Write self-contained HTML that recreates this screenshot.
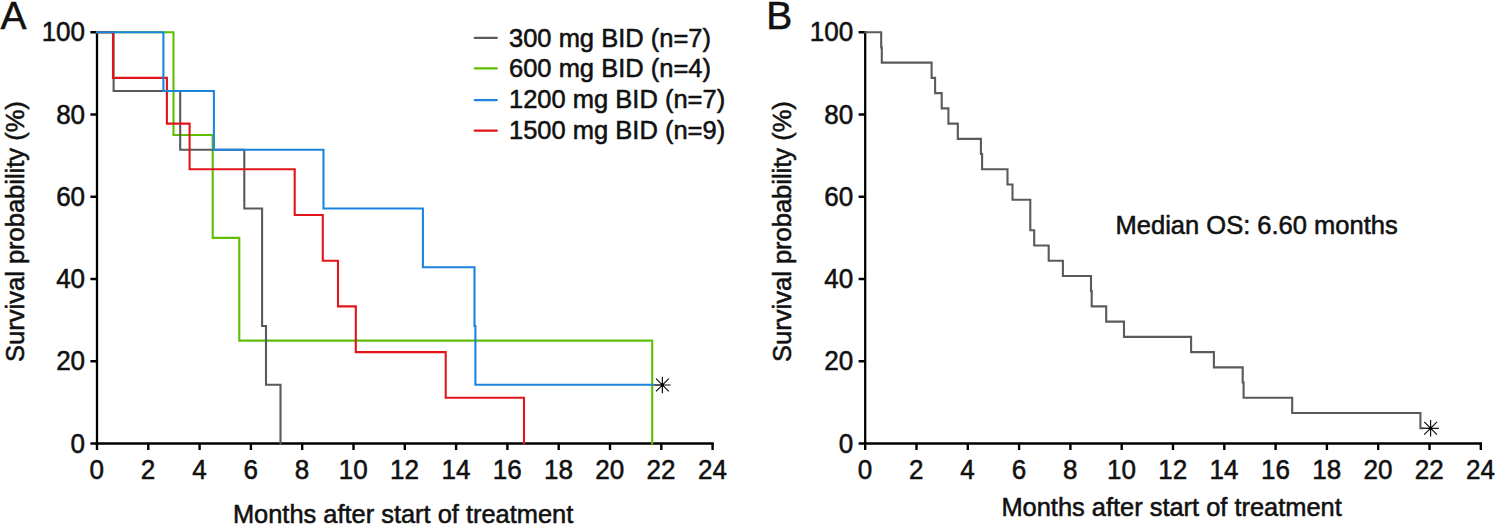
<!DOCTYPE html>
<html lang="en">
<head>
<meta charset="utf-8">
<title>Survival probability</title>
<style>
html,body{margin:0;padding:0;background:#fff;}
body{width:1495px;height:525px;overflow:hidden;}
svg{display:block;font-family:"Liberation Sans",Arial,Helvetica,sans-serif;}
text{fill:#111;stroke:#111;stroke-width:0.55px;stroke-linejoin:round;}
</style>
</head>
<body>
<svg width="1495" height="525" viewBox="0 0 1495 525">
<rect width="1495" height="525" fill="#fff"/>
<!-- Panel A -->
<text x="0.4" y="29" font-size="39">A</text>
<path d="M97 31 V443.5 H713.8" fill="none" stroke="#000" stroke-width="2.3" stroke-linejoin="miter"/>
<path d="M90.4 443.5 H97M90.4 361.24 H97M90.4 278.98 H97M90.4 196.72 H97M90.4 114.46 H97M90.4 32.2 H97M97 443.5 V450.1M148.3 443.5 V450.1M199.6 443.5 V450.1M250.9 443.5 V450.1M302.2 443.5 V450.1M353.5 443.5 V450.1M404.8 443.5 V450.1M456.1 443.5 V450.1M507.4 443.5 V450.1M558.7 443.5 V450.1M610 443.5 V450.1M661.3 443.5 V450.1M712.6 443.5 V450.1" fill="none" stroke="#000" stroke-width="2.4"/>
<g font-size="27" text-anchor="end">
<text x="85.1" y="452.7" textLength="14.49" lengthAdjust="spacingAndGlyphs">0</text>
<text x="85.1" y="370.44" textLength="28.97" lengthAdjust="spacingAndGlyphs">20</text>
<text x="85.1" y="288.18" textLength="28.97" lengthAdjust="spacingAndGlyphs">40</text>
<text x="85.1" y="205.92" textLength="28.97" lengthAdjust="spacingAndGlyphs">60</text>
<text x="85.1" y="123.66" textLength="28.97" lengthAdjust="spacingAndGlyphs">80</text>
<text x="85.1" y="41.4" textLength="43.46" lengthAdjust="spacingAndGlyphs">100</text>
</g>
<g font-size="27" text-anchor="middle">
<text x="96.8" y="479" textLength="14.49" lengthAdjust="spacingAndGlyphs">0</text>
<text x="148.1" y="479" textLength="14.49" lengthAdjust="spacingAndGlyphs">2</text>
<text x="199.4" y="479" textLength="14.49" lengthAdjust="spacingAndGlyphs">4</text>
<text x="250.7" y="479" textLength="14.49" lengthAdjust="spacingAndGlyphs">6</text>
<text x="302" y="479" textLength="14.49" lengthAdjust="spacingAndGlyphs">8</text>
<text x="353.3" y="479" textLength="28.97" lengthAdjust="spacingAndGlyphs">10</text>
<text x="404.6" y="479" textLength="28.97" lengthAdjust="spacingAndGlyphs">12</text>
<text x="455.9" y="479" textLength="28.97" lengthAdjust="spacingAndGlyphs">14</text>
<text x="507.2" y="479" textLength="28.97" lengthAdjust="spacingAndGlyphs">16</text>
<text x="558.5" y="479" textLength="28.97" lengthAdjust="spacingAndGlyphs">18</text>
<text x="609.8" y="479" textLength="28.97" lengthAdjust="spacingAndGlyphs">20</text>
<text x="661.1" y="479" textLength="28.97" lengthAdjust="spacingAndGlyphs">22</text>
<text x="712.4" y="479" textLength="28.97" lengthAdjust="spacingAndGlyphs">24</text>
</g>
<path d="M97 32.2 H173.5 V135.02 H212.7 V237.85 H239.3 V340.67 H652.2 V443.5" fill="none" stroke="#5fbe00" stroke-width="2.1" stroke-linejoin="miter" stroke-linecap="square"/>
<path d="M97 32.2 H113.6 V90.96 H180.2 V149.71 H244.3 V208.47 H262.1 V325.99 H266 V384.74 H280.5 V443.5" fill="none" stroke="#5a5a5a" stroke-width="2.1" stroke-linejoin="miter" stroke-linecap="square"/>
<path d="M97 32.2 H113 V77.9 H166.9 V123.6 H189.6 V169.3 H294.7 V215 H322.8 V260.7 H338 V306.4 H355.8 V352.1 H445.7 V397.8 H524 V443.5" fill="none" stroke="#e1141a" stroke-width="2.1" stroke-linejoin="miter" stroke-linecap="square"/>
<path d="M97 32.2 H163.4 V90.96 H213.9 V149.71 H323.5 V208.47 H422.9 V267.23 H474.5 V325.99 H475.4 V384.74 H653" fill="none" stroke="#1c84de" stroke-width="2.1" stroke-linejoin="miter" stroke-linecap="square"/>
<g stroke="#111" stroke-width="1.2" fill="none"><path d="M662.4 376.7 V393.3 M662.4 385 H670.7 M656 378.6 L668.8 391.4 M656 391.4 L668.8 378.6"/><path d="M654.1 385 H662.4" stroke="#0b1a2b" stroke-width="1.45"/><rect x="660.9" y="383.5" width="3" height="3" fill="#000" stroke="none"/></g>
<text transform="translate(24.0 361.9) rotate(-90)" font-size="25.5">Survival probability (%)</text>
<text x="232.9" y="523" font-size="25.5" textLength="340.4" lengthAdjust="spacingAndGlyphs">Months after start of treatment</text>
<path d="M474.7 37.8 H496.8" stroke="#5a5a5a" stroke-width="2.2" stroke-linecap="round" fill="none"/>
<text x="509" y="46.6" font-size="25.5">300 mg BID (n=7)</text>
<path d="M474.7 68.3 H496.8" stroke="#5fbe00" stroke-width="2.2" stroke-linecap="round" fill="none"/>
<text x="509" y="77.35" font-size="25.5">600 mg BID (n=4)</text>
<path d="M474.7 100.1 H496.8" stroke="#1c84de" stroke-width="2.2" stroke-linecap="round" fill="none"/>
<text x="509" y="108.1" font-size="25.5">1200 mg BID (n=7)</text>
<path d="M474.7 130.7 H496.8" stroke="#e1141a" stroke-width="2.2" stroke-linecap="round" fill="none"/>
<text x="509" y="138.85" font-size="25.5">1500 mg BID (n=9)</text>
<!-- Panel B -->
<text x="766.3" y="29" font-size="39">B</text>
<path d="M865.2 31 V443.5 H1482" fill="none" stroke="#000" stroke-width="2.3" stroke-linejoin="miter"/>
<path d="M858.6 443.5 H865.2M858.6 361.24 H865.2M858.6 278.98 H865.2M858.6 196.72 H865.2M858.6 114.46 H865.2M858.6 32.2 H865.2M865.2 443.5 V450.1M916.5 443.5 V450.1M967.8 443.5 V450.1M1019.1 443.5 V450.1M1070.4 443.5 V450.1M1121.7 443.5 V450.1M1173 443.5 V450.1M1224.3 443.5 V450.1M1275.6 443.5 V450.1M1326.9 443.5 V450.1M1378.2 443.5 V450.1M1429.5 443.5 V450.1M1480.8 443.5 V450.1" fill="none" stroke="#000" stroke-width="2.4"/>
<g font-size="27" text-anchor="end">
<text x="853.3" y="452.7" textLength="14.49" lengthAdjust="spacingAndGlyphs">0</text>
<text x="853.3" y="370.44" textLength="28.97" lengthAdjust="spacingAndGlyphs">20</text>
<text x="853.3" y="288.18" textLength="28.97" lengthAdjust="spacingAndGlyphs">40</text>
<text x="853.3" y="205.92" textLength="28.97" lengthAdjust="spacingAndGlyphs">60</text>
<text x="853.3" y="123.66" textLength="28.97" lengthAdjust="spacingAndGlyphs">80</text>
<text x="853.3" y="41.4" textLength="43.46" lengthAdjust="spacingAndGlyphs">100</text>
</g>
<g font-size="27" text-anchor="middle">
<text x="865" y="479" textLength="14.49" lengthAdjust="spacingAndGlyphs">0</text>
<text x="916.3" y="479" textLength="14.49" lengthAdjust="spacingAndGlyphs">2</text>
<text x="967.6" y="479" textLength="14.49" lengthAdjust="spacingAndGlyphs">4</text>
<text x="1018.9" y="479" textLength="14.49" lengthAdjust="spacingAndGlyphs">6</text>
<text x="1070.2" y="479" textLength="14.49" lengthAdjust="spacingAndGlyphs">8</text>
<text x="1121.5" y="479" textLength="28.97" lengthAdjust="spacingAndGlyphs">10</text>
<text x="1172.8" y="479" textLength="28.97" lengthAdjust="spacingAndGlyphs">12</text>
<text x="1224.1" y="479" textLength="28.97" lengthAdjust="spacingAndGlyphs">14</text>
<text x="1275.4" y="479" textLength="28.97" lengthAdjust="spacingAndGlyphs">16</text>
<text x="1326.7" y="479" textLength="28.97" lengthAdjust="spacingAndGlyphs">18</text>
<text x="1378" y="479" textLength="28.97" lengthAdjust="spacingAndGlyphs">20</text>
<text x="1429.3" y="479" textLength="28.97" lengthAdjust="spacingAndGlyphs">22</text>
<text x="1480.6" y="479" textLength="28.97" lengthAdjust="spacingAndGlyphs">24</text>
</g>
<path d="M865.2 32.2 H881.2 V47.43 H881.8 V62.67 H931.6 V77.9 H935.1 V93.13 H941.7 V108.37 H948.4 V123.6 H957.8 V138.83 H980.9 V154.07 H982.1 V169.3 H1007.5 V184.53 H1012.5 V199.77 H1030.3 V215 H1030.3 V230.23 H1034.2 V245.47 H1048.7 V260.7 H1062.9 V275.93 H1091 V291.17 H1091.7 V306.4 H1106.2 V321.63 H1124 V336.87 H1191.1 V352.1 H1213.9 V367.33 H1242.7 V382.57 H1243.6 V397.8 H1292.2 V413.03 H1420.4 V428.27 H1422" fill="none" stroke="#5a5a5a" stroke-width="2.1" stroke-linejoin="miter" stroke-linecap="square"/>
<g stroke="#111" stroke-width="1.2" fill="none"><path d="M1430.6 420 V436.6 M1430.6 428.3 H1438.9 M1424.2 421.9 L1437 434.7 M1424.2 434.7 L1437 421.9"/><path d="M1422.3 428.3 H1430.6" stroke="#222" stroke-width="1.45"/><rect x="1429.1" y="426.8" width="3" height="3" fill="#000" stroke="none"/></g>
<text transform="translate(791.2 361.9) rotate(-90)" font-size="25.5">Survival probability (%)</text>
<text x="1001.4" y="515.6" font-size="25.5" textLength="340.4" lengthAdjust="spacingAndGlyphs">Months after start of treatment</text>
<text x="1115.6" y="234.3" font-size="25.5">Median OS: 6.60 months</text>
</svg>
</body>
</html>
